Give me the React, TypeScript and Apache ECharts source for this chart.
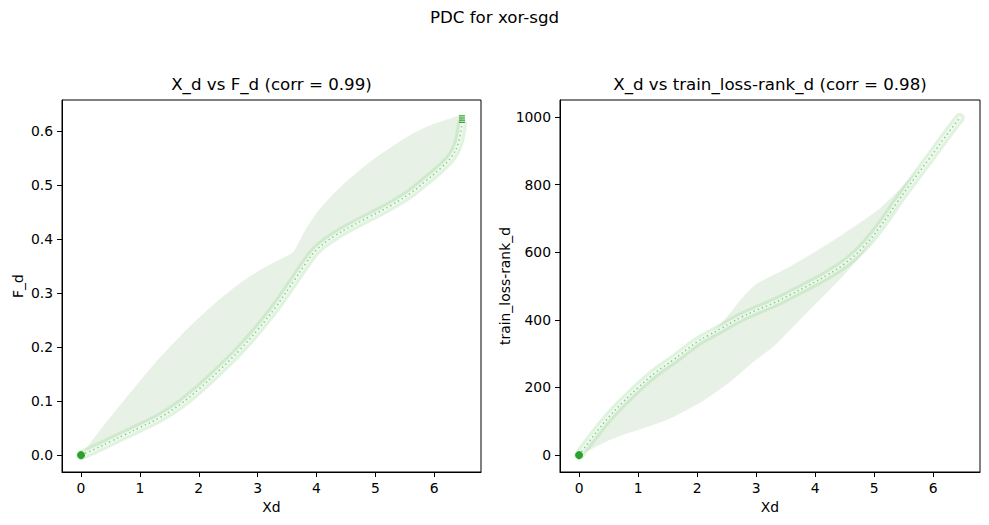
import React, { useEffect, useRef } from "react";
import * as echarts from "echarts";

// ---- Left panel: X_d vs F_d ----
const fX = [0, 0.25, 0.5, 0.75, 1.0, 1.35, 1.7, 2.0, 2.35, 2.7, 3.0, 3.3, 3.55, 3.62, 3.8, 4.0, 4.3, 4.6, 4.9, 5.28, 5.6, 5.85, 6.1, 6.3, 6.41, 6.47];
const fTrail = [0, 0.012, 0.025, 0.038, 0.051, 0.070, 0.095, 0.122, 0.157, 0.195, 0.232, 0.273, 0.312, 0.323, 0.352, 0.380, 0.405, 0.424, 0.441, 0.463, 0.485, 0.507, 0.530, 0.553, 0.578, 0.614];
const fUpper = [0, 0.036, 0.071, 0.104, 0.137, 0.182, 0.222, 0.254, 0.288, 0.318, 0.340, 0.358, 0.372, 0.378, 0.415, 0.448, 0.485, 0.515, 0.542, 0.571, 0.593, 0.607, 0.617, 0.624, 0.628, 0.626];
const fEndCluster = [0.616, 0.620, 0.624, 0.628];
const fTicks = [0, 0.1, 0.2, 0.3, 0.4, 0.5, 0.6];

// ---- Right panel: X_d vs train_loss-rank_d ----
const rX = [0, 0.25, 0.5, 0.75, 1.0, 1.3, 1.6, 2.0, 2.2, 2.4, 2.6, 2.75, 3.0, 3.3, 3.6, 3.9, 4.2, 4.5, 4.8, 5.1, 5.4, 5.7, 5.95, 6.2, 6.45];
const rTrail = [0, 58, 112, 158, 200, 245, 282, 335, 355, 374, 394, 408, 428, 450, 476, 503, 532, 566, 612, 675, 750, 822, 880, 940, 997];
const rUpper = [0, 58, 112, 158, 200, 245, 282, 335, 358, 388, 428, 462, 505, 533, 560, 591, 623, 657, 692, 730, 780, 835, 882, 940, 997];
const rLower = [0, 21, 43, 60, 74, 92, 113, 150, 172, 196, 222, 245, 282, 322, 374, 428, 481, 535, 595, 665, 738, 822, 880, 940, 997];
const rTicks = [0, 200, 400, 600, 800, 1000];

const xTicks = [0, 1, 2, 3, 4, 5, 6];

const GREEN = "#2ca02c";
const BAND = "#e8f1e6";
const FONT = "DejaVu Sans";

function bandSeries(idx: number, xs: number[], lo: number[], hi: number[]) {
  return {
    type: "custom",
    xAxisIndex: idx,
    yAxisIndex: idx,
    silent: true,
    z: 1,
    data: xs.map((x, i) => [x, lo[i]]),
    encode: { x: 0, y: 1 },
    renderItem: (params: any, api: any) => {
      if (params.dataIndex !== 0) return null;
      const top = xs.map((x, i) => api.coord([x, hi[i]]));
      const bottom = xs.map((x, i) => api.coord([x, lo[i]])).reverse();
      return {
        type: "polygon",
        shape: { points: top.concat(bottom), smooth: 0.2 },
        style: { fill: BAND, stroke: null },
      };
    },
  };
}

function trailSeries(idx: number, xs: number[], ys: number[]) {
  const data = xs.map((x, i) => [x, ys[i]]);
  const base = {
    type: "line",
    xAxisIndex: idx,
    yAxisIndex: idx,
    data,
    smooth: 0.4,
    showSymbol: false,
    symbol: "none",
    silent: true,
  };
  return [
    { ...base, z: 2, lineStyle: { width: 10, color: "rgba(150,215,150,0.3)", cap: "round", join: "round" } },
    { ...base, z: 3, lineStyle: { width: 4, color: "rgba(246,252,246,0.7)", cap: "round", join: "round" } },
    { ...base, z: 4, lineStyle: { width: 1.5, color: "rgba(70,175,70,0.6)", type: [1.4, 3] } },
  ];
}

function originDot(idx: number) {
  return {
    type: "scatter",
    xAxisIndex: idx,
    yAxisIndex: idx,
    data: [[0, 0]],
    symbolSize: 8,
    itemStyle: { color: GREEN, opacity: 1 },
    z: 6,
    silent: true,
  };
}

const axisText = { color: "#000", fontFamily: FONT, fontSize: 13.9 };

function xAxisDef(idx: number) {
  return {
    type: "value",
    gridIndex: idx,
    min: -0.3235,
    max: 6.7935,
    name: "Xd",
    nameLocation: "middle",
    nameGap: 27,
    nameTextStyle: axisText,
    axisLine: { show: true, onZero: false, lineStyle: { color: "#000", width: 1 } },
    axisTick: { show: true, length: 5, customValues: xTicks, lineStyle: { color: "#000" } },
    axisLabel: { ...axisText, margin: 9, customValues: xTicks, formatter: (v: number) => String(v) },
    splitLine: { show: false },
  };
}

function yAxisDef(idx: number, min: number, max: number, ticks: number[], name: string, gap: number, fmt: (v: number) => string) {
  return {
    type: "value",
    gridIndex: idx,
    min,
    max,
    name,
    nameLocation: "middle",
    nameGap: gap,
    nameTextStyle: axisText,
    axisLine: { show: true, onZero: false, lineStyle: { color: "#000", width: 1 } },
    axisTick: { show: true, length: 5, customValues: ticks, lineStyle: { color: "#000" } },
    axisLabel: { ...axisText, margin: 9, customValues: ticks, formatter: fmt },
    splitLine: { show: false },
  };
}

export default function App() {
  const ref = useRef<HTMLDivElement>(null);

  useEffect(() => {
    if (!ref.current) return;
    const chart = echarts.init(ref.current, undefined, { renderer: "svg" });
    const titleStyle = { color: "#000", fontFamily: FONT, fontSize: 16.67, fontWeight: "normal" as const };
    chart.setOption({
      animation: false,
      backgroundColor: "#fff",
      title: [
        { text: "PDC for xor-sgd", left: 494.5, textAlign: "center", top: 9, padding: 0, textStyle: titleStyle },
        { text: "X_d vs F_d (corr = 0.99)", left: 271.5, textAlign: "center", top: 76, padding: 0, textStyle: titleStyle },
        { text: "X_d vs train_loss-rank_d (corr = 0.98)", left: 770, textAlign: "center", top: 76, padding: 0, textStyle: titleStyle },
      ],
      grid: [
        { left: 62, top: 100, width: 419, height: 372, show: true, borderColor: "#000", borderWidth: 1, backgroundColor: "transparent" },
        { left: 560, top: 100, width: 420, height: 372, show: true, borderColor: "#000", borderWidth: 1, backgroundColor: "transparent" },
      ],
      xAxis: [xAxisDef(0), xAxisDef(1)],
      yAxis: [
        yAxisDef(0, -0.0313, 0.6573, fTicks, "F_d", 37, (v: number) => v.toFixed(1)),
        yAxisDef(1, -50, 1050, rTicks, "train_loss-rank_d", 48, (v: number) => String(v)),
      ],
      series: [
        bandSeries(0, fX, fTrail, fUpper),
        ...trailSeries(0, fX, fTrail),
        {
          type: "scatter",
          xAxisIndex: 0,
          yAxisIndex: 0,
          data: fEndCluster.map((y) => [6.47, y]),
          symbol: "rect",
          symbolSize: [6, 1.2],
          itemStyle: { color: GREEN, opacity: 1 },
          z: 5,
          silent: true,
        },
        originDot(0),
        bandSeries(1, rX, rLower, rUpper),
        ...trailSeries(1, rX, rTrail),
        originDot(1),
      ],
    });
    return () => chart.dispose();
  }, []);

  return (
    <div
      ref={ref}
      style={{ position: "absolute", left: 0, top: 0, width: 989, height: 525, background: "#fff" }}
    />
  );
}
